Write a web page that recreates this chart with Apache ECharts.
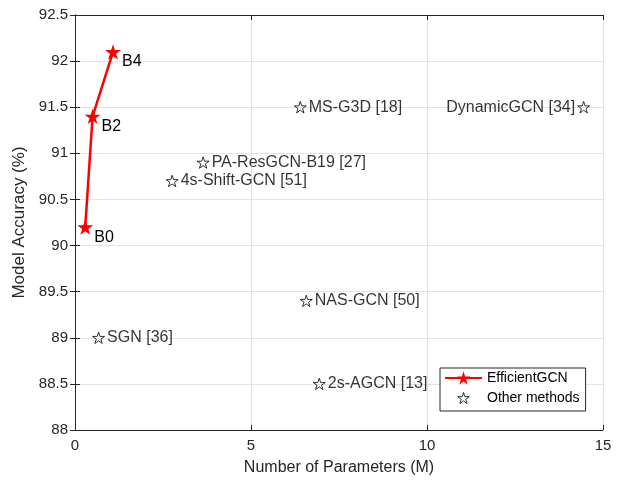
<!DOCTYPE html>
<html>
<head>
<meta charset="utf-8">
<script src="https://cdn.jsdelivr.net/npm/echarts@6/dist/echarts.min.js"></script>
<style>html,body{margin:0;padding:0;background:#fff;}#c{width:620px;height:483px;}</style>
</head>
<body>
<div id="c"></div>
<script>
// Data
const effNames = ['B0', 'B2', 'B4'];
const effX = [0.29, 0.5, 1.08];
const effY = [90.2, 91.4, 92.1];

const otherNames = ['MS-G3D [18]', 'DynamicGCN [34]', 'PA-ResGCN-B19 [27]', '4s-Shift-GCN [51]', 'NAS-GCN [50]', 'SGN [36]', '2s-AGCN [13]'];
const otherX = [6.4, 14.45, 3.64, 2.76, 6.57, 0.67, 6.94];
const otherY = [91.5, 91.5, 90.9, 90.7, 89.4, 89.0, 88.5];
const otherLabelLeft = [false, true, false, false, false, false, false];

const xTicks = [0, 5, 10, 15];
const yTicks = [88, 88.5, 89, 89.5, 90, 90.5, 91, 91.5, 92, 92.5];

const FONT = '"Liberation Sans", Arial, Helvetica, sans-serif';
const STAR = 'path://M100 0 L122.5 69.1 L195.1 69.1 L136.3 111.8 L158.8 180.9 L100 138.2 L41.2 180.9 L63.7 111.8 L4.9 69.1 L77.5 69.1 Z';
const STAR_PADDED = 'path://M-45 -50 M245 230 M100 0 L122.5 69.1 L195.1 69.1 L136.3 111.8 L158.8 180.9 L100 138.2 L41.2 180.9 L63.7 111.8 L4.9 69.1 L77.5 69.1 Z';
const AX = '#262626';

const chart = echarts.init(document.getElementById('c'), null, {renderer: 'canvas'});

const effData = effX.map((x, i) => ({value: [x, effY[i]], name: effNames[i]}));
const otherData = otherX.map((x, i) => ({
  value: [x, otherY[i]],
  name: otherNames[i],
  label: otherLabelLeft[i] ? {position: 'left'} : {position: 'right'}
}));

const baseAxis = {
  axisLine: {show: true, lineStyle: {color: AX, width: 1}},
  axisTick: {show: true, inside: true, length: 5, lineStyle: {color: AX}},
};

chart.setOption({
  animation: false,
  backgroundColor: '#fff',
  grid: {left: 75, right: 17, top: 15, bottom: 53},
  xAxis: [
    Object.assign({}, baseAxis, {
      type: 'value', min: 0, max: 15, interval: 5,
      name: 'Number of Parameters (M)', nameLocation: 'middle', nameGap: 30,
      nameTextStyle: {fontFamily: FONT, fontSize: 16, color: AX},
      axisLabel: {fontFamily: FONT, fontSize: 15, color: AX, margin: 8,
        formatter: v => (xTicks.includes(v) ? String(v) : '')},
      splitLine: {show: true, lineStyle: {color: '#e3e3e3', width: 1}}
    }),
    Object.assign({}, baseAxis, {
      type: 'value', min: 0, max: 15, interval: 5, position: 'top',
      axisLabel: {show: false}, splitLine: {show: false}
    })
  ],
  yAxis: [
    Object.assign({}, baseAxis, {
      type: 'value', min: 88, max: 92.5, interval: 0.5,
      name: 'Model Accuracy (%)', nameLocation: 'middle', nameGap: 40,
      nameTextStyle: {fontFamily: FONT, fontSize: 17, color: AX},
      axisLabel: {fontFamily: FONT, fontSize: 15, color: AX, margin: 7,
        formatter: v => String(yTicks.find(t => Math.abs(t - v) < 1e-6) ?? '')},
      splitLine: {show: true, lineStyle: {color: '#e3e3e3', width: 1}}
    }),
    Object.assign({}, baseAxis, {
      type: 'value', min: 88, max: 92.5, interval: 0.5, position: 'right',
      axisLabel: {show: false}, splitLine: {show: false}
    })
  ],
  legend: {
    orient: 'vertical',
    left: 440, top: 368,
    backgroundColor: '#fff',
    borderColor: AX, borderWidth: 1, borderRadius: 0,
    padding: [3, 6, 2, 4],
    itemGap: 2,
    itemWidth: 37, itemHeight: 17,
    textStyle: {fontFamily: FONT, fontSize: 14, color: '#000'},
    data: [
      {name: 'EfficientGCN'},
      {name: 'Other methods', icon: STAR_PADDED, itemStyle: {color: 'none', borderColor: '#000', borderWidth: 1}}
    ]
  },
  series: [
    {
      name: 'EfficientGCN', type: 'line', data: effData,
      symbol: STAR, symbolSize: 16, symbolKeepAspect: true,
      lineStyle: {color: '#ff0000', width: 2.5},
      itemStyle: {color: '#ff0000'},
      label: {show: true, formatter: '{b}', position: 'right', distance: 1, offset: [0, 10],
        fontFamily: FONT, fontSize: 16, color: '#000'},
      z: 3
    },
    {
      name: 'Other methods', type: 'scatter', data: otherData,
      symbol: STAR, symbolSize: 12, symbolKeepAspect: true,
      itemStyle: {color: 'none', borderColor: '#000', borderWidth: 1},
      label: {show: true, formatter: '{b}', distance: 0,
        fontFamily: FONT, fontSize: 16, color: '#000'},
      z: 2
    }
  ]
});
</script>
</body>
</html>
